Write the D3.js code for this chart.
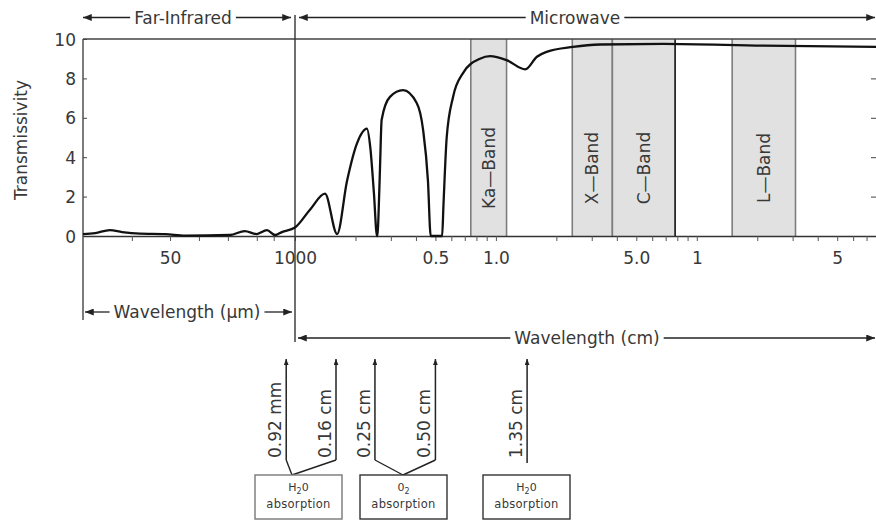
<!DOCTYPE html>
<html>
<head>
<meta charset="utf-8">
<script src="https://cdn.jsdelivr.net/npm/d3@7"></script>
<style>
  body { margin: 0; background: #fff; }
  svg text { font-family: "DejaVu Sans", sans-serif; fill: #383838; }
</style>
</head>
<body>
<div id="chart"></div>
<script>
// curve: wavelength in cm, transmissivity 0-10
const waveCm = [0.00062, 0.00083, 0.00118, 0.00158, 0.00243, 0.00443, 0.00715, 0.021, 0.030, 0.040,
  0.051, 0.062, 0.073, 0.100, 0.119, 0.141, 0.162, 0.1816, 0.2035, 0.228,
  0.237, 0.247, 0.256, 0.2575, 0.2603, 0.265, 0.270, 0.297, 0.345, 0.4035,
  0.434, 0.459, 0.4737, 0.54, 0.548, 0.569, 0.612, 0.686, 0.833, 0.935,
  1.13, 1.40, 1.60, 1.79, 2.42, 3.3, 6.8, 21.4, 78];
const trans = [0.1, 0.15, 0.3, 0.2, 0.12, 0.1, 0.02, 0.05, 0.25, 0.1,
  0.3, 0.05, 0.2, 0.43, 1.35, 2.15, 0.1, 2.8, 4.7, 5.45,
  4.5, 2.2, 0, 0, 1.0, 3.5, 5.9, 7.06, 7.4, 6.75,
  5.4, 2.8, 0, 0, 1.5, 5.0, 7.06, 8.27, 9.0, 9.13,
  8.93, 8.46, 9.1, 9.35, 9.6, 9.72, 9.75, 9.66, 9.6];

const yTicks = [0, 2, 4, 6, 8, 10];
const farTicksUm = [20, 50, 100, 200, 400, 600, 1000];
const mwTicksCm = [0.2, 0.3, 0.4, 0.5, 0.6, 0.7, 0.8, 0.9, 1, 2, 3, 4, 5, 6, 7, 8, 9, 10, 20, 30, 40, 50, 60, 70];
const tickLabelVals = [0.005, 0.1, 0.5, 1, 5, 10, 50];
const tickLabelText = ["50", "1000", "0.5", "1.0", "5.0", "1", "5"];

const bandNames = ["Ka\u2014Band", "X\u2014Band", "C\u2014Band", "L\u2014Band"];
const bandFrom = [0.75, 2.4, 3.8, 15];
const bandTo = [1.13, 3.8, 7.8, 31];

const annoCm = [0.081, 0.16, 0.25, 0.50, 1.43];
const annoText = ["0.92 mm", "0.16 cm", "0.25 cm", "0.50 cm", "1.35 cm"];
const boxGas = [["H", "2", "0"], ["0", "2", ""], ["H", "2", "0"]];
const boxArrows = [[0, 1], [2, 3], [4]];

const W = 876, H = 522;
const svg = d3.select("#chart").append("svg").attr("width", W).attr("height", H);

const defs = svg.append("defs");
defs.append("marker").attr("id", "ah")
  .attr("viewBox", "0 0 10 8").attr("refX", 10).attr("refY", 4)
  .attr("markerUnits", "userSpaceOnUse").attr("markerWidth", 9).attr("markerHeight", 7)
  .attr("orient", "auto-start-reverse")
  .append("path").attr("d", "M0,0 L10,4 L0,8 z").attr("fill", "#222");
defs.append("marker").attr("id", "ahs")
  .attr("viewBox", "0 0 10 8").attr("refX", 10).attr("refY", 4)
  .attr("markerUnits", "userSpaceOnUse").attr("markerWidth", 6).attr("markerHeight", 5)
  .attr("orient", "auto")
  .append("path").attr("d", "M0,0 L10,4 L0,8 z").attr("fill", "#222");

// piecewise log axis: far-IR part is compressed, microwave part wider
const x = d3.scaleLog().domain([0.00062, 0.1, 78]).range([83, 295, 876]);
const y = d3.scaleLinear().domain([0, 10]).range([236, 39]);

// bands
const bands = svg.append("g");
bandNames.forEach((name, i) => {
  const x0 = x(bandFrom[i]), x1 = x(bandTo[i]);
  bands.append("rect").attr("x", x0).attr("y", y(10)).attr("width", x1 - x0).attr("height", y(0) - y(10))
    .attr("fill", "#e1e1e1");
  [x0, x1].forEach(xx => bands.append("line")
    .attr("x1", xx).attr("x2", xx).attr("y1", y(10)).attr("y2", y(0))
    .attr("stroke", (name[0] == "C" && xx == x1) ? "#111" : "#7d7d7d").attr("stroke-width", 1.6));
  bands.append("text")
    .attr("transform", `translate(${(x0 + x1) / 2 + 6},168) rotate(-90)`)
    .attr("text-anchor", "middle").attr("font-size", 17).text(name);
});

// frame
svg.append("line").attr("x1", 83).attr("x2", W).attr("y1", y(10)).attr("y2", y(10))
  .attr("stroke", "#444").attr("stroke-width", 1.4);
svg.append("line").attr("x1", 83).attr("x2", 83).attr("y1", y(10)).attr("y2", 320)
  .attr("stroke", "#444").attr("stroke-width", 1.4);

// y axis
const ya = svg.append("g").attr("transform", "translate(83,0)")
  .call(d3.axisLeft(y).tickValues(yTicks).tickSize(-4).tickSizeOuter(0).tickPadding(7));
ya.select(".domain").remove();
ya.selectAll("text").attr("font-size", 17).attr("font-family", "DejaVu Sans").attr("dy", "0.36em");
ya.selectAll("line").attr("stroke", "#444");

const yr = svg.append("g").attr("transform", "translate(876,0)")
  .call(d3.axisRight(y).tickValues(yTicks.slice(1, 5)).tickSize(-5).tickFormat(""));
yr.select(".domain").remove();
yr.selectAll("line").attr("stroke", "#444");

svg.append("text").attr("transform", "translate(27,140) rotate(-90)")
  .attr("text-anchor", "middle").attr("font-size", 17).text("Transmissivity");

// x axis
const allTicks = farTicksUm.map(d => d / 1e4).concat(mwTicksCm);
const xa = svg.append("g").attr("transform", `translate(0,${y(0)})`)
  .call(d3.axisBottom(x).tickValues(allTicks).tickSize(5).tickSizeOuter(0).tickPadding(11)
    .tickFormat(d => {
      const k = tickLabelVals.findIndex(v => Math.abs(v - d) < 1e-9);
      return k < 0 ? "" : tickLabelText[k];
    }));
xa.selectAll("text").attr("font-size", 17).attr("font-family", "DejaVu Sans");
xa.select(".domain").attr("stroke", "#333").attr("stroke-width", 1.6);
xa.selectAll("line").attr("stroke", "#555");

// divider between far-infrared and microwave
svg.append("line").attr("x1", x(0.1)).attr("x2", x(0.1)).attr("y1", 15).attr("y2", 342)
  .attr("stroke", "#333").attr("stroke-width", 1.4);

// curve
const line = d3.line().x(d => x(d[0])).y(d => y(d[1])).curve(d3.curveMonotoneX);
svg.append("path").datum(waveCm.map((w, i) => [w, trans[i]]))
  .attr("d", line).attr("fill", "none").attr("stroke", "#111").attr("stroke-width", 2.3);

// labelled double arrows
function labelArrow(x1, x2, yl, cx, base, txt) {
  const t = svg.append("text").attr("x", cx).attr("y", base).attr("text-anchor", "middle")
    .attr("font-size", 17).text(txt);
  const bb = t.node().getBBox();
  svg.append("line").attr("x1", bb.x - 4).attr("x2", x1).attr("y1", yl).attr("y2", yl)
    .attr("stroke", "#222").attr("stroke-width", 1.3).attr("marker-end", "url(#ah)");
  svg.append("line").attr("x1", bb.x + bb.width + 4).attr("x2", x2).attr("y1", yl).attr("y2", yl)
    .attr("stroke", "#222").attr("stroke-width", 1.3).attr("marker-end", "url(#ah)");
}
labelArrow(83, x(0.1) - 4, 17.5, 183, 24, "Far-Infrared");
labelArrow(x(0.1) + 4, 875, 17.5, 575, 24, "Microwave");
labelArrow(85, x(0.1) - 3, 312, 187, 318, "Wavelength (\u00b5m)");
labelArrow(x(0.1) + 3, 875, 338, 587, 344, "Wavelength (cm)");

// absorption annotations
const boxLeft = [255, 360, 483], boxW = 87, boxTop = 475, boxH = 44;
const joinX = [292, 403, null];
const ann = svg.append("g");
annoCm.forEach((w, i) => {
  const ax = x(w);
  const bottom = i == 4 ? 463 : 460;
  ann.append("line").attr("x1", ax).attr("x2", ax).attr("y1", bottom).attr("y2", 359)
    .attr("stroke", "#222").attr("stroke-width", 1.5).attr("marker-end", "url(#ahs)");
  ann.append("text").attr("transform", `translate(${ax - 5},458) rotate(-90)`)
    .attr("font-size", 17).text(annoText[i]);
});
boxGas.forEach((g, b) => {
  if (joinX[b] != null) {
    boxArrows[b].forEach(i => ann.append("line")
      .attr("x1", x(annoCm[i])).attr("y1", 460).attr("x2", joinX[b]).attr("y2", boxTop)
      .attr("stroke", "#222").attr("stroke-width", 1.4));
  }
  ann.append("rect").attr("x", boxLeft[b]).attr("y", boxTop).attr("width", boxW).attr("height", boxH)
    .attr("fill", "#fff").attr("stroke", b == 0 ? "#777" : "#333").attr("stroke-width", 1.4);
  const cx = boxLeft[b] + boxW / 2;
  const t = ann.append("text").attr("x", cx).attr("y", 491).attr("text-anchor", "middle").attr("font-size", 11);
  t.append("tspan").text(g[0]);
  t.append("tspan").attr("font-size", 8).attr("dy", 3).text(g[1]);
  t.append("tspan").attr("dy", -3).text(g[2]);
  ann.append("text").attr("x", cx).attr("y", 508).attr("text-anchor", "middle")
    .attr("font-size", 11.5).attr("letter-spacing", 0.3).text("absorption");
});
</script>
</body>
</html>
